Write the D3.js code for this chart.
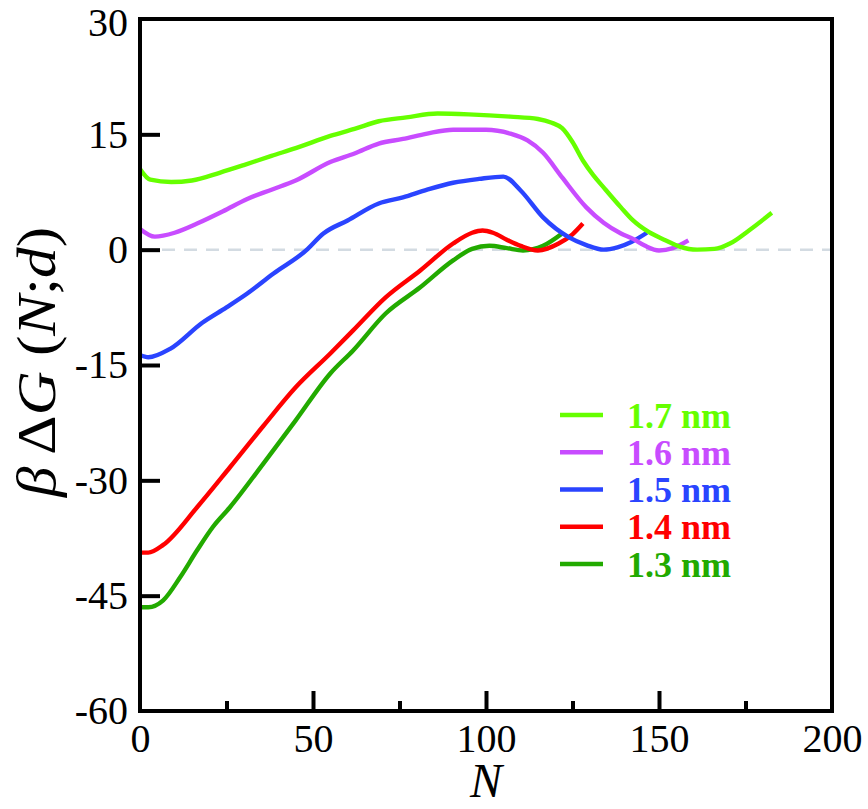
<!DOCTYPE html>
<html><head><meta charset="utf-8">
<script src="https://cdn.jsdelivr.net/npm/d3@7"></script>
<style>body{margin:0;background:#fff}svg{display:block}</style>
</head><body>
<svg id="c" width="868" height="809"></svg>
<script>
// ---- data ----
const seriesNames = ["1.7 nm","1.6 nm","1.5 nm","1.4 nm","1.3 nm"];
const n17 = [0,3,9,15,23,30,38,45,55,62,69,77,86,95,107,115,119,122,125,128,131,134,139,142.5,147,152,156,161,166,170.5,176,182.6];
const v17 = [10.5,9.1,8.8,9.0,10.0,11.0,12.2,13.2,14.8,15.7,16.7,17.2,17.7,17.6,17.3,17.0,16.5,15.8,14.0,11.6,9.7,8.1,5.5,3.8,2.3,1.2,0.4,0.0,0.1,0.8,2.5,4.8];
const n16 = [0,4.3,10,16.5,24,31,38,45,55,62,69,76,83,90.5,100,107,112,116.5,122,129,134,139,142.5,146,150,154,158.5];
const v16 = [2.7,1.7,2.2,3.4,5.0,6.6,7.8,9.0,11.4,12.5,13.8,14.4,15.1,15.6,15.6,15.1,14.2,12.6,9.4,5.5,3.5,2.1,1.4,0.5,-0.1,0.2,1.2];
const n15 = [0,2.4,8.7,18,25,31,38.6,48,53,60,69,76,83,90.5,98,105,110,116.5,124,129,134,138,142,146.5];
const v15 = [-13.7,-14.0,-12.9,-9.5,-7.5,-5.7,-3.1,-0.1,2.1,3.8,6.0,6.8,7.8,8.7,9.2,9.5,7.7,4.2,1.6,0.6,0.0,0.3,1.0,2.2];
const n14 = [0,2.4,6.7,16.5,26,35.7,45,55,61.6,71,81,90.5,96,99,102,106,110,115,121,125,128];
const v14 = [-39.4,-39.4,-38.4,-33.5,-28.3,-22.9,-17.9,-13.5,-10.5,-6.2,-2.7,0.8,2.2,2.5,2.2,1.3,0.5,-0.1,0.8,2.0,3.4];
const n13 = [0,2.4,6.7,11.6,16.5,21,26,35.7,45,55,61.6,71,81,90.5,96,101,106,110.7,116.5,122];
const v13 = [-46.5,-46.5,-45.6,-42.6,-39.1,-36.1,-33.5,-27.8,-22.2,-16.1,-13.1,-8.3,-4.9,-1.4,0.1,0.5,0.2,-0.1,0.5,2.1];
const xMajorTicks = [0,50,100,150,200];
const xMinorTicks = [25,75,125,175];
const yTicks = [-60,-45,-30,-15,0,15,30];
const colors = ["#66ff00","#c84cff","#2a44ff","#ff0000","#22aa00"];

const series = [
  {name: seriesNames[0], n: n17, v: v17, color: colors[0]},
  {name: seriesNames[1], n: n16, v: v16, color: colors[1]},
  {name: seriesNames[2], n: n15, v: v15, color: colors[2]},
  {name: seriesNames[3], n: n14, v: v14, color: colors[3]},
  {name: seriesNames[4], n: n13, v: v13, color: colors[4]}
];

// ---- layout ----
const L = 140, R = 832, T = 19, B = 711;
const svg = d3.select("#c");
const x = d3.scaleLinear().domain([0,200]).range([L,R]);
const y = d3.scaleLinear().domain([-60,30]).range([B,T]);
const font = "'Liberation Serif','Times New Roman',serif";

// zero dashed line
svg.append("line")
  .attr("x1", x(0)).attr("x2", x(200)).attr("y1", y(0)).attr("y2", y(0))
  .attr("stroke","#d3dbe2").attr("stroke-width",2.5).attr("stroke-dasharray","13,9");

// curves
const line = d3.line().x(d=>x(d[0])).y(d=>y(d[1])).curve(d3.curveMonotoneX);
series.slice().reverse().forEach(s=>{
  svg.append("path")
    .datum(s.n.map((n,i)=>[n,s.v[i]]))
    .attr("d", line).attr("fill","none")
    .attr("stroke", s.color).attr("stroke-width",4.4)
    .attr("stroke-linejoin","round");
});

// axes
const fmt = d => String(d);
const gx = svg.append("g").attr("transform",`translate(0,${B})`)
  .call(d3.axisBottom(x).tickValues(xMajorTicks).tickSize(-20).tickPadding(13).tickFormat(fmt));
const gxm = svg.append("g").attr("transform",`translate(0,${B})`)
  .call(d3.axisBottom(x).tickValues(xMinorTicks).tickSize(-10).tickFormat(""));
const gy = svg.append("g").attr("transform",`translate(${L},0)`)
  .call(d3.axisLeft(y).tickValues(yTicks).tickSize(-20).tickPadding(12).tickFormat(fmt));
[gx,gxm,gy].forEach(g=>{
  g.select(".domain").remove();
  g.selectAll(".tick line").attr("stroke","#000").attr("stroke-width",4);
  g.selectAll(".tick text").attr("font-family",font).attr("font-size",40).attr("fill","#000");
});
gy.selectAll(".tick").filter(d=>d===30||d===-60).select("line").remove();
gx.selectAll(".tick").filter(d=>d===0||d===200).select("line").remove();
gy.selectAll(".tick").filter(d=>d===30).select("text").attr("dy","0.42em");

// frame
svg.append("rect").attr("x",L).attr("y",T).attr("width",R-L).attr("height",B-T)
  .attr("fill","none").attr("stroke","#000").attr("stroke-width",4);

// axis titles
svg.append("text").attr("x",486).attr("y",797).attr("text-anchor","middle")
  .attr("font-family",font).attr("font-size",48).attr("font-style","italic").text("N");

const yl = svg.append("text").attr("transform","translate(55,362) rotate(-90)")
  .attr("text-anchor","middle").attr("font-family",font).attr("font-size",54)
  .attr("textLength",270).attr("lengthAdjust","spacingAndGlyphs");
yl.append("tspan").attr("font-style","italic").text("β");
yl.append("tspan").text(" Δ");
yl.append("tspan").attr("font-style","italic").text("G");
yl.append("tspan").text(" (");
yl.append("tspan").attr("font-style","italic").text("N");
yl.append("tspan").text(";");
yl.append("tspan").attr("font-style","italic").text("d");
yl.append("tspan").text(")");

// legend
const legY = d3.scalePoint().domain(seriesNames).range([415,564]);
const lg = svg.append("g");
series.forEach(s=>{
  lg.append("line").attr("x1",560).attr("x2",603).attr("y1",legY(s.name)).attr("y2",legY(s.name))
    .attr("stroke",s.color).attr("stroke-width",4.5);
  lg.append("text").attr("x",627).attr("y",legY(s.name)).attr("dy","0.35em")
    .attr("font-family",font).attr("font-weight","bold").attr("font-size",36)
    .attr("fill",s.color).text(s.name);
});
</script>
</body></html>
